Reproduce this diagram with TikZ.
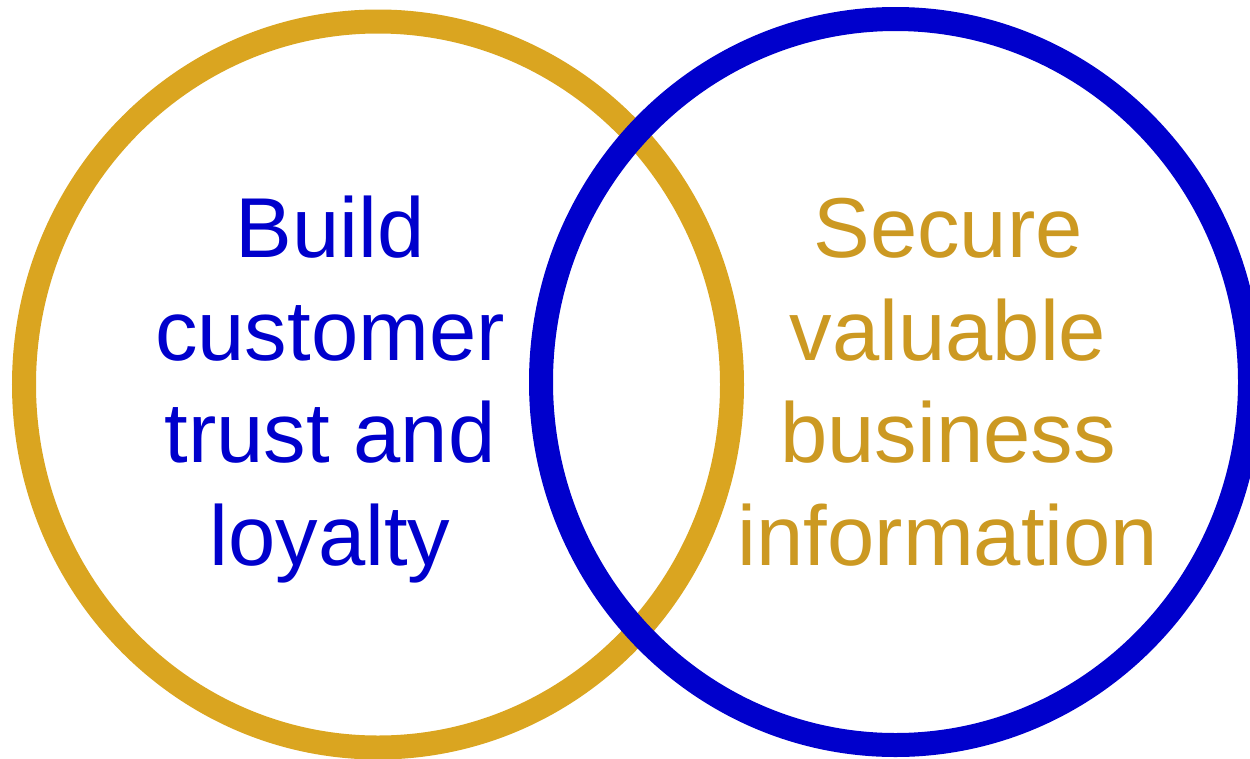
\documentclass[tikz,border=0pt]{standalone}
\usepackage{fontspec}
\setmainfont{Liberation Sans}
\definecolor{ringgold}{HTML}{DAA520}
\definecolor{ringblue}{HTML}{0000CC}
\definecolor{textgold}{HTML}{CC9922}
\begin{document}
\begin{tikzpicture}[x=1pt,y=-1pt,
  ring/.style={line width=24pt},
  label/.style={align=center,inner sep=0pt,anchor=base,
    font=\fontsize{85}{102.5}\selectfont}]
  \useasboundingbox (0,0) rectangle (1250,758);
  % two overlapping rings, the blue one drawn over the gold one
  \draw[ring,ringgold] (378,384.5) ellipse [x radius=354, y radius=363];
  \draw[ring,ringblue] (895.5,382) ellipse [x radius=354.5, y radius=363];
  % the base anchor of a multi-line node sits on its last line
  \node[label,text=ringblue] (trust) at (330,565)
    {Build\\customer\\trust and\\loyalty};
  \node[label,text=textgold] (secure) at (948,565)
    {Secure\\valuable\\business\\information};
\end{tikzpicture}
\end{document}
